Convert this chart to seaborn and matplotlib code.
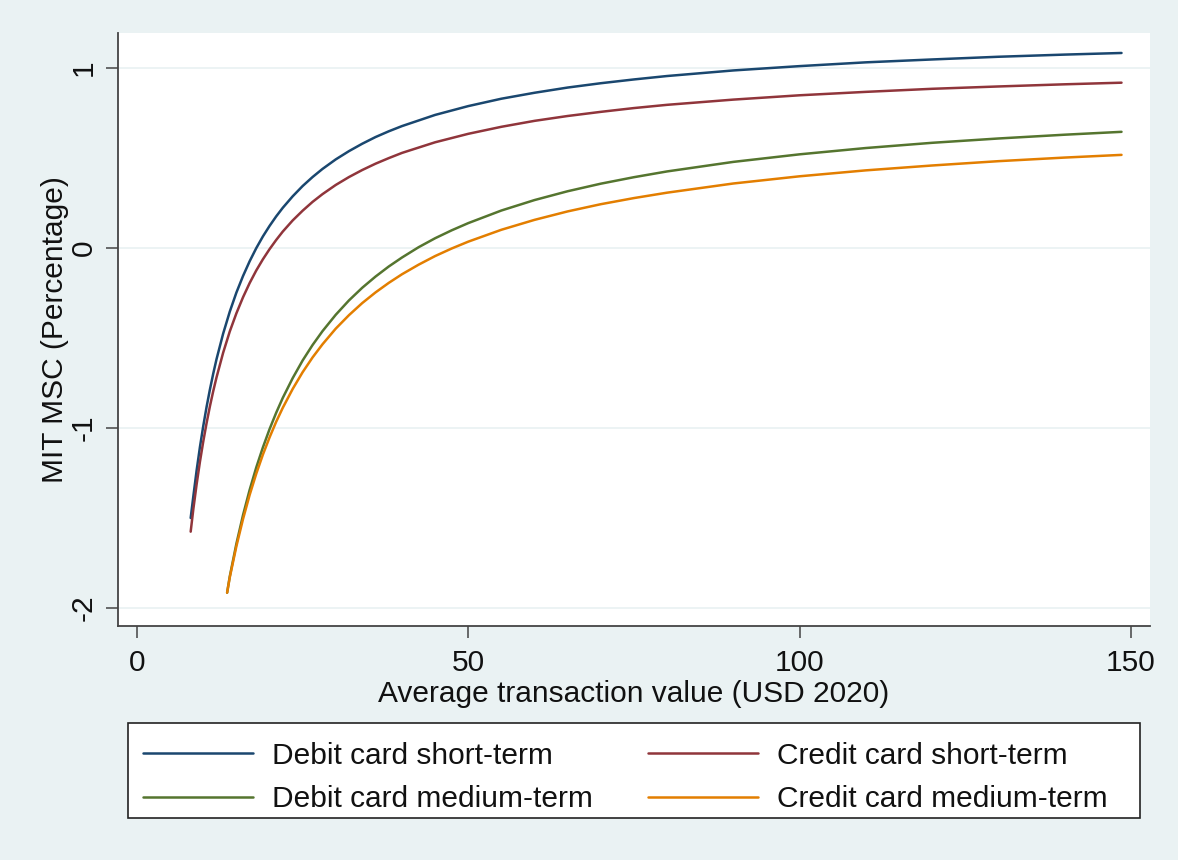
import numpy as np
import pandas as pd
import matplotlib
matplotlib.use("Agg")
import matplotlib.pyplot as plt
from matplotlib.patches import Rectangle
import seaborn as sns

# ---- data ----
x_short = [8.1, 8.5, 9, 9.5, 10, 10.5, 11, 11.5, 12, 13, 14, 15, 16, 17, 18, 19, 20,
           21, 22, 23.5, 25, 26.5, 28, 30, 32, 34, 36, 38, 40, 45, 50, 55, 60, 65,
           70, 75, 80, 90, 100, 110, 120, 130, 140, 148.6]
debit_short = [-1.50, -1.380, -1.235, -1.105, -0.989, -0.883, -0.787, -0.699, -0.618,
               -0.476, -0.354, -0.248, -0.156, -0.074, -0.001, 0.064, 0.122, 0.175,
               0.223, 0.287, 0.344, 0.394, 0.439, 0.492, 0.538, 0.579, 0.616, 0.648,
               0.677, 0.739, 0.788, 0.829, 0.862, 0.891, 0.915, 0.936, 0.955, 0.986,
               1.010, 1.031, 1.047, 1.062, 1.074, 1.083]
credit_short = [-1.576, -1.451, -1.312, -1.187, -1.075, -0.973, -0.880, -0.796, -0.719,
                -0.582, -0.464, -0.363, -0.274, -0.195, -0.125, -0.063, -0.007, 0.044,
                0.091, 0.153, 0.207, 0.256, 0.299, 0.350, 0.394, 0.433, 0.468, 0.499,
                0.528, 0.587, 0.634, 0.673, 0.706, 0.733, 0.756, 0.777, 0.795, 0.824,
                0.848, 0.867, 0.884, 0.897, 0.909, 0.918]
x_medium = [13.6, 14, 15, 16, 17, 18, 19, 20, 21, 22, 23.5, 25, 26.5, 28, 30, 32, 34,
            36, 38, 40, 42.5, 45, 47.5, 50, 55, 60, 65, 70, 75, 80, 90, 100, 110, 120,
            130, 140, 148.6]
debit_medium = [-1.915, -1.825, -1.643, -1.484, -1.344, -1.219, -1.108, -1.007, -0.916,
                -0.833, -0.723, -0.625, -0.539, -0.462, -0.371, -0.291, -0.221, -0.159,
                -0.103, -0.053, 0.004, 0.054, 0.098, 0.138, 0.208, 0.266, 0.315, 0.357,
                0.393, 0.425, 0.478, 0.520, 0.555, 0.584, 0.608, 0.629, 0.645]
credit_medium = [-1.915, -1.830, -1.657, -1.506, -1.372, -1.254, -1.148, -1.053, -0.966,
                 -0.888, -0.783, -0.690, -0.608, -0.535, -0.448, -0.373, -0.306, -0.247,
                 -0.194, -0.146, -0.093, -0.045, -0.003, 0.035, 0.101, 0.156, 0.203,
                 0.243, 0.277, 0.307, 0.358, 0.398, 0.431, 0.458, 0.482, 0.502, 0.517]

series_names = ["Debit card short-term", "Credit card short-term",
                "Debit card medium-term", "Credit card medium-term"]
colors = ["#1a476f", "#90353b", "#55752f", "#e37e00"]
x_ticks = [0, 50, 100, 150]
y_ticks = [-2, -1, 0, 1]
x_label = "Average transaction value (USD 2020)"
y_label = "MIT MSC (Percentage)"

frames = []
for name, xs, ys in zip(series_names,
                        [x_short, x_short, x_medium, x_medium],
                        [debit_short, credit_short, debit_medium, credit_medium]):
    frames.append(pd.DataFrame({"x": xs, "y": ys, "series": name}))
df = pd.concat(frames, ignore_index=True)

# ---- styling ----
sns.set_theme(style="white")
plt.rcParams["font.family"] = ["Liberation Sans", "DejaVu Sans"]
BG = "#eaf2f3"
FS = 21.5
W, H = 1178, 860

fig = plt.figure(figsize=(W / 100, H / 100), dpi=100, facecolor=BG)
ax = fig.add_axes([118 / W, 1 - 626 / H, (1150 - 118) / W, (626 - 33) / H])
ax.set_facecolor("white")

sns.lineplot(data=df, x="x", y="y", hue="series", hue_order=series_names,
             palette=colors, estimator=None, sort=True, linewidth=1.8, ax=ax)

ax.set_xlim(-2.87, 152.9)
ax.set_ylim(-2.1, 1.194)
ax.set_xticks(x_ticks)
ax.set_yticks(y_ticks)
ax.set_yticklabels([str(v) for v in y_ticks], rotation=90, va="center")
ax.tick_params(axis="both", which="major", labelsize=FS, length=8.5, width=1.1,
               color="#444444", labelcolor="#111111", direction="out",
               bottom=True, left=True)
ax.tick_params(axis="x", pad=8)
ax.tick_params(axis="y", pad=6)
ax.yaxis.grid(True, color=BG, linewidth=1.3)
ax.xaxis.grid(False)
ax.set_axisbelow(True)

for side in ["top", "right"]:
    ax.spines[side].set_visible(False)
for side in ["left", "bottom"]:
    ax.spines[side].set_visible(True)
    ax.spines[side].set_color("#444444")
    ax.spines[side].set_linewidth(1.3)

ax.set_xlabel(x_label, fontsize=FS, color="#111111", labelpad=2)
ax.set_ylabel(y_label, fontsize=FS, color="#111111", labelpad=0.8)

handles, labels = ax.get_legend_handles_labels()
ax.get_legend().remove()
order = [0, 2, 1, 3]
leg = fig.legend([handles[i] for i in order], [labels[i] for i in order],
                 loc="upper left", bbox_to_anchor=(128 / W, 1 - 727 / H),
                 ncol=2, fontsize=FS, frameon=False,
                 handlelength=3.68, handletextpad=0.64, columnspacing=1.85,
                 borderpad=0.5, labelspacing=0.52, borderaxespad=0)
for t in leg.get_texts():
    t.set_color("#111111")
for h in leg.get_lines():
    h.set_linewidth(1.8)

# legend frame box
fig.add_artist(Rectangle((128 / W, 1 - 818 / H), (1140 - 128) / W, (818 - 723) / H,
                         transform=fig.transFigure, facecolor="white",
                         edgecolor="#222222", linewidth=1.2, zorder=1))

fig.savefig("out.png", dpi=100, facecolor=BG)
